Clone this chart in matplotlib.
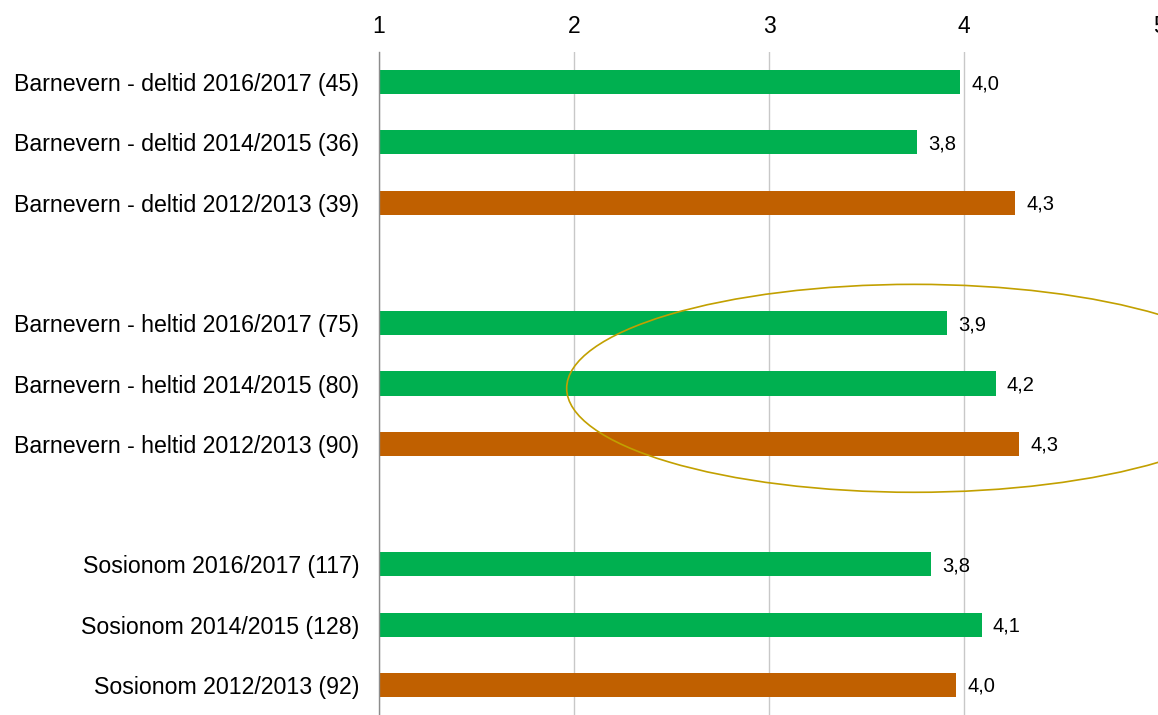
import matplotlib.pyplot as plt
from matplotlib.patches import Ellipse

plt.rcParams['font.family'] = ['Liberation Sans', 'DejaVu Sans']

# data, top to bottom
labels = [
    'Barnevern - deltid 2016/2017 (45)',
    'Barnevern - deltid 2014/2015 (36)',
    'Barnevern - deltid 2012/2013 (39)',
    'Barnevern - heltid 2016/2017 (75)',
    'Barnevern - heltid 2014/2015 (80)',
    'Barnevern - heltid 2012/2013 (90)',
    'Sosionom 2016/2017 (117)',
    'Sosionom 2014/2015 (128)',
    'Sosionom 2012/2013 (92)',
]
values = [3.98, 3.76, 4.26, 3.91, 4.16, 4.28, 3.83, 4.09, 3.96]
years = ['2016/2017', '2014/2015', '2012/2013'] * 3
xticks = [1, 2, 3, 4, 5]

green = '#00B050'
orange = '#C06000'

# three groups of three rows, one empty row between groups
pos = [i + i // 3 for i in range(len(labels))]
colors = [orange if y == '2012/2013' else green for y in years]

fig = plt.figure(figsize=(11.58, 7.15), dpi=100)
ax = fig.add_axes([378.7 / 1158, 0, (1159.5 - 378.7) / 1158, 1 - 52 / 715])

ax.barh(pos, [v - 1 for v in values], left=1, height=0.4, color=colors, zorder=3)
for p, v in zip(pos, values):
    ax.annotate(f'{v:.1f}'.replace('.', ','), (v, p), xytext=(8, -1),
                textcoords='offset points', va='center', ha='left', fontsize=14.5)

ax.set_xlim(1, 5)
ax.set_ylim(10.5, -0.5)
ax.set_yticks(pos)
ax.set_yticklabels(labels, fontsize=16.7)
ax.set_xticks(xticks)
ax.set_xticklabels([str(t) for t in xticks], fontsize=16.5)
ax.xaxis.tick_top()
ax.tick_params(axis='y', length=0, pad=14)
ax.tick_params(axis='x', length=0, pad=10)
ax.grid(axis='x', color='#C8C8C8', linewidth=1, zorder=0)

for s in ['top', 'right', 'bottom']:
    ax.spines[s].set_visible(False)
ax.spines['left'].set_color('#8C8C8C')
ax.spines['left'].set_linewidth(1)
ax.spines['left'].set_zorder(4)

ell = Ellipse((3.743, 5.08), width=3.56, height=3.45, fill=False,
              edgecolor='#C2A000', linewidth=1.2, zorder=5, clip_on=False)
ax.add_patch(ell)

fig.savefig('out.png', dpi=100)
